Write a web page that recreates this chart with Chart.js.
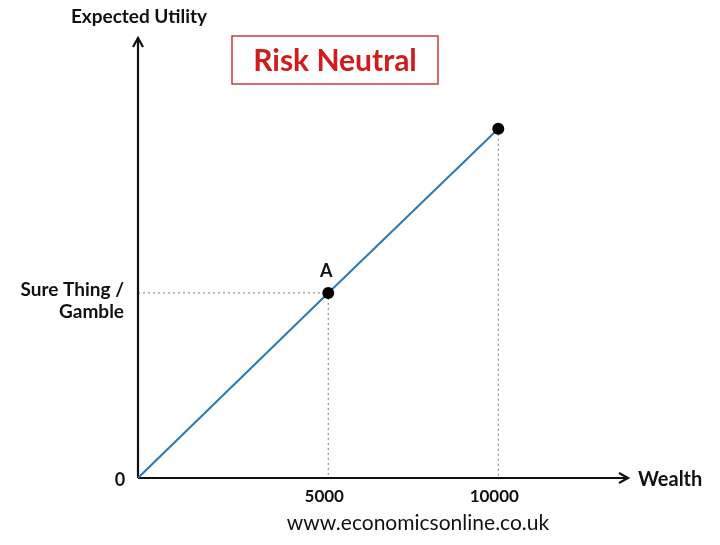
<!DOCTYPE html>
<html>
<head>
<meta charset="utf-8">
<script src="https://cdn.jsdelivr.net/npm/chart.js@4/dist/chart.umd.min.js"></script>
<style>
  html, body { margin: 0; padding: 0; background: #fff; }
  #wrap { width: 720px; height: 545px; }
</style>
</head>
<body>
<div id="wrap"><canvas id="chartRiskNeutral" width="720" height="545"></canvas></div>
<script>
// values
const wealth = [0, 5280, 10000];
const utility = [0, 53, 100];
const wealthTicks = ['', '5000', '10000'];
const utilityTicks = ['', 'Sure Thing /\nGamble', ''];
const pointLabels = ['', 'A', ''];
const wealthMax = 13600;
const utilityMax = 126;

const palette = {
    ink: '#111111',
    line: '#2b79b3',
    guide: '#7a7a7a',
    red: '#d01c1c',
};

const font = '"Lato", "Open Sans", sans-serif';

const annotate = {
    id: 'annotate',
    beforeDatasetsDraw(chart) {
        const { ctx, chartArea: area, scales: { x, y } } = chart;
        ctx.save();
        ctx.strokeStyle = palette.guide;
        ctx.lineWidth = 1;
        ctx.setLineDash([2, 3]);
        wealth.forEach((w, i) => {
            if (!wealthTicks[i] && !utilityTicks[i]) return;
            const px = x.getPixelForValue(w);
            const py = y.getPixelForValue(utility[i]);
            ctx.beginPath();
            ctx.moveTo(px, py);
            ctx.lineTo(px, area.bottom);
            ctx.stroke();
            if (utilityTicks[i]) {
                ctx.beginPath();
                ctx.moveTo(area.left, py);
                ctx.lineTo(px, py);
                ctx.stroke();
            }
        });
        ctx.restore();

        // axes with arrow heads
        ctx.save();
        ctx.strokeStyle = palette.ink;
        ctx.lineWidth = 2.2;
        ctx.beginPath();
        ctx.moveTo(area.left, area.bottom);
        ctx.lineTo(area.right, area.bottom);
        ctx.moveTo(area.left, area.bottom);
        ctx.lineTo(area.left, area.top);
        ctx.stroke();
        ctx.beginPath();
        ctx.moveTo(area.right - 9, area.bottom - 5);
        ctx.lineTo(area.right, area.bottom);
        ctx.lineTo(area.right - 9, area.bottom + 5);
        ctx.moveTo(area.left - 5, area.top + 9);
        ctx.lineTo(area.left, area.top);
        ctx.lineTo(area.left + 5, area.top + 9);
        ctx.stroke();
        ctx.restore();
    },
    afterDraw(chart) {
        const { ctx, chartArea: area, scales: { x, y } } = chart;
        ctx.save();
        ctx.fillStyle = palette.ink;
        ctx.textBaseline = 'middle';

        ctx.font = `bold 19px ${font}`;
        ctx.textAlign = 'center';
        ctx.fillText('Expected Utility', area.left + 1, 17);
        ctx.font = `bold 20px ${font}`;
        ctx.textAlign = 'left';
        ctx.fillText('Wealth', area.right + 10, area.bottom + 2);
        ctx.font = `bold 18px ${font}`;
        ctx.textAlign = 'center';
        ctx.fillText('0', area.left - 18, area.bottom + 2);

        wealth.forEach((w, i) => {
            const px = x.getPixelForValue(w);
            const py = y.getPixelForValue(utility[i]);
            if (wealthTicks[i]) {
                ctx.font = `bold 17px ${font}`;
                ctx.textAlign = 'center';
                ctx.fillText(wealthTicks[i], px - 4, area.bottom + 19);
            }
            if (utilityTicks[i]) {
                ctx.font = `bold 19px ${font}`;
                ctx.textAlign = 'right';
                utilityTicks[i].split('\n').forEach((line, k) => {
                    ctx.fillText(line, area.left - 14, py - 3 + k * 22);
                });
            }
            if (pointLabels[i]) {
                ctx.font = `bold 18px ${font}`;
                ctx.textAlign = 'center';
                ctx.fillText(pointLabels[i], px - 2, py - 22);
            }
        });

        ctx.font = `21px ${font}`;
        ctx.textAlign = 'center';
        ctx.fillText('www.economicsonline.co.uk', 418, area.bottom + 45);

        // title box
        ctx.strokeStyle = '#cf3a3a';
        ctx.lineWidth = 1.5;
        ctx.strokeRect(232, 36, 206, 48);
        ctx.fillStyle = palette.red;
        ctx.font = `bold 30px ${font}`;
        ctx.fillText('Risk Neutral', 335, 61);
        ctx.restore();
    },
};

new Chart(document.getElementById('chartRiskNeutral'), {
    type: 'line',
    data: {
        datasets: [
            {
                data: wealth.map((w, i) => ({ x: w, y: utility[i] })),
                borderColor: palette.line,
                borderWidth: 2,
                pointRadius: wealth.map((w, i) => (i === 0 ? 0 : 6)),
                pointBackgroundColor: '#000',
                pointBorderColor: '#000',
                pointBorderWidth: 0,
                tension: 0,
            },
        ],
    },
    options: {
        responsive: false,
        animation: false,
        layout: { padding: { left: 138, right: 92, top: 38, bottom: 67 } },
        plugins: {
            legend: { display: false },
            tooltip: { enabled: false },
        },
        scales: {
            x: { type: 'linear', min: 0, max: wealthMax, display: false },
            y: { type: 'linear', min: 0, max: utilityMax, display: false },
        },
    },
    plugins: [annotate],
});
</script>
</body>
</html>
